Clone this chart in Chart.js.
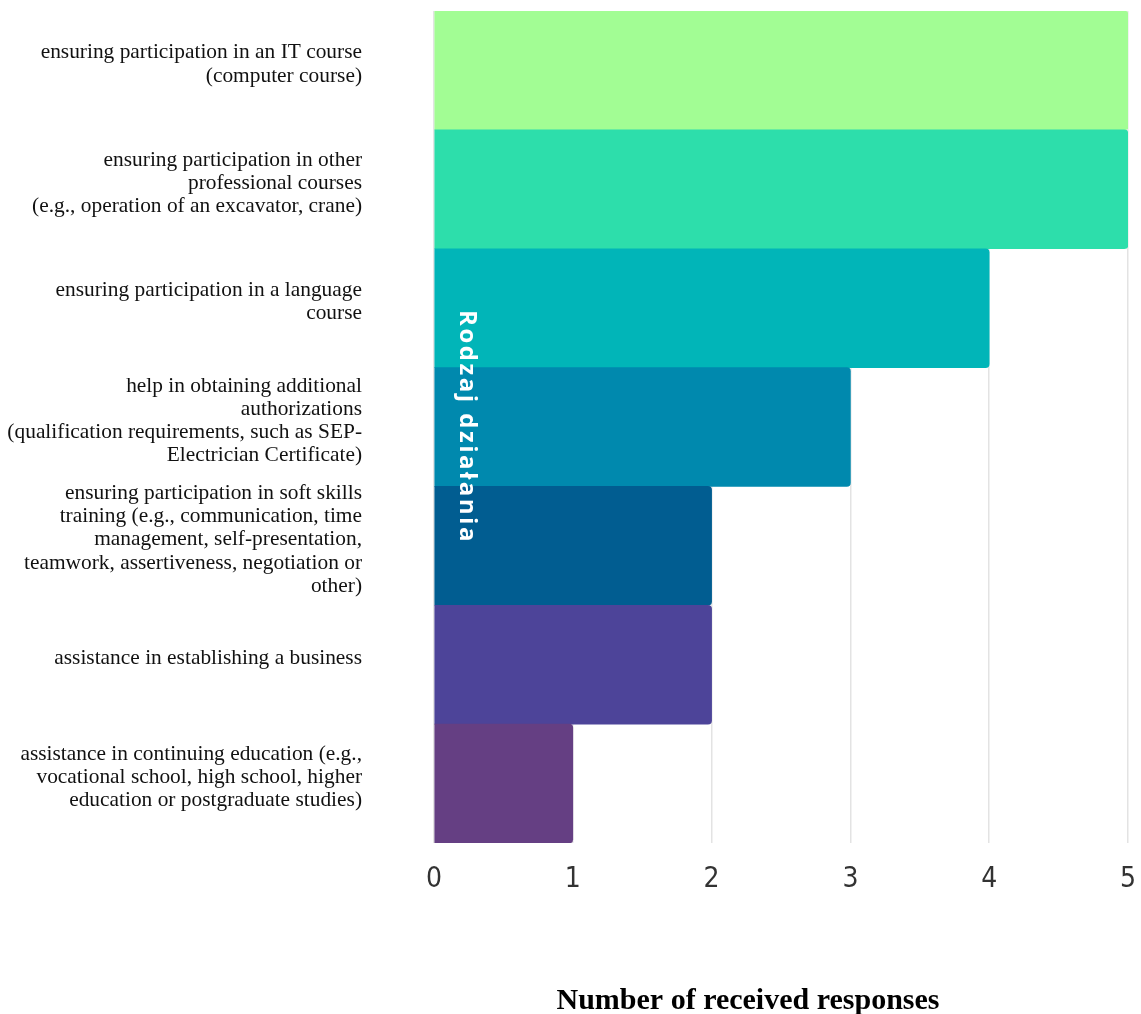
<!DOCTYPE html>
<html>
<head>
<meta charset="utf-8">
<script src="https://cdn.jsdelivr.net/npm/chart.js@4.4.1/dist/chart.umd.min.js"></script>
<style>
  html, body { margin: 0; padding: 0; background: #ffffff; }
  #wrap { width: 1141px; height: 1014px; position: relative; }
</style>
</head>
<body>
<div id="wrap"><canvas id="chart"></canvas></div>
<script>
// Categories (multi-line labels), one entry per bar
const categories = [
  ["ensuring participation in an IT course", "(computer course)"],
  ["ensuring participation in other", "professional courses", "(e.g., operation of an excavator, crane)"],
  ["ensuring participation in a language", "course"],
  ["help in obtaining additional", "authorizations", "(qualification requirements, such as SEP-", "Electrician Certificate)"],
  ["ensuring participation in soft skills", "training (e.g., communication, time", "management, self-presentation,", "teamwork, assertiveness, negotiation or", "other)"],
  ["assistance in establishing a business"],
  ["assistance in continuing education (e.g.,", "vocational school, high school, higher", "education or postgraduate studies)"]
];

// Number of responses per category
const responses = [5, 5, 4, 3, 2, 2, 1];

// Bar colours, top to bottom
const barColors = ["#a2fd94", "#2ddeab", "#01b5b8", "#0089ae", "#015d91", "#4d4499", "#653f83"];

// Value-axis tick values
const xTicks = [0, 1, 2, 3, 4, 5];

const axisTitleX = "Number of received responses";
const axisTitleY = "Rodzaj działania";

// Axis titles: the category title sits rotated inside the plot,
// the value title sits below the tick labels
const axisTitles = {
  id: "axisTitles",
  afterDatasetsDraw(chart) {
    const { ctx, chartArea } = chart;
    ctx.save();
    ctx.translate(chartArea.left + 33, (chartArea.top + chartArea.bottom) / 2);
    ctx.rotate(Math.PI / 2);
    ctx.fillStyle = "#ffffff";
    ctx.font = "bold 24px 'Open Sans', sans-serif";
    ctx.letterSpacing = "2.5px";
    ctx.textAlign = "center";
    ctx.textBaseline = "middle";
    ctx.fillText(axisTitleY, 0, 0);
    ctx.restore();

    ctx.save();
    ctx.fillStyle = "#000000";
    ctx.font = "bold 30px 'Liberation Serif', 'Times New Roman', serif";
    ctx.textAlign = "center";
    ctx.textBaseline = "alphabetic";
    ctx.fillText(axisTitleX, (chartArea.left + chartArea.right) / 2 - 33, 1009);
    ctx.restore();
  }
};

new Chart(document.getElementById("chart"), {
  type: "bar",
  data: {
    labels: categories,
    datasets: [{
      data: responses,
      backgroundColor: barColors,
      borderWidth: 0,
      borderRadius: 4,
      barPercentage: 1,
      categoryPercentage: 1
    }]
  },
  options: {
    indexAxis: "y",
    responsive: true,
    maintainAspectRatio: false,
    animation: false,
    layout: { padding: { top: 11, right: 13, left: 0, bottom: 0 } },
    plugins: { legend: { display: false }, tooltip: { enabled: false } },
    scales: {
      x: {
        min: 0,
        max: 5,
        afterBuildTicks(scale) { scale.ticks = xTicks.map(v => ({ value: v })); },
        afterFit(scale) {
          scale.height = 171;
          scale.paddingLeft = 0;
          scale.paddingRight = 0;
        },
        border: { display: false },
        grid: { color: "#e3e3e3", lineWidth: 1.5, drawTicks: false },
        ticks: {
          padding: 20,
          color: "#333333",
          font: { family: "'Liberation Sans Narrow', 'DejaVu Sans Condensed', sans-serif", size: 28 }
        },
        title: { display: false }
      },
      y: {
        afterFit(scale) {
          scale.width = 434;
          scale.paddingTop = 0;
          scale.paddingBottom = 0;
        },
        border: { display: false },
        grid: { display: false, drawTicks: false },
        ticks: {
          padding: 72,
          labelOffset: -6,
          color: "#111111",
          autoSkip: false,
          font: { family: "'Liberation Serif', 'Times New Roman', serif", size: 21.4, lineHeight: 1.08 }
        }
      }
    }
  },
  plugins: [axisTitles]
});
</script>
</body>
</html>
